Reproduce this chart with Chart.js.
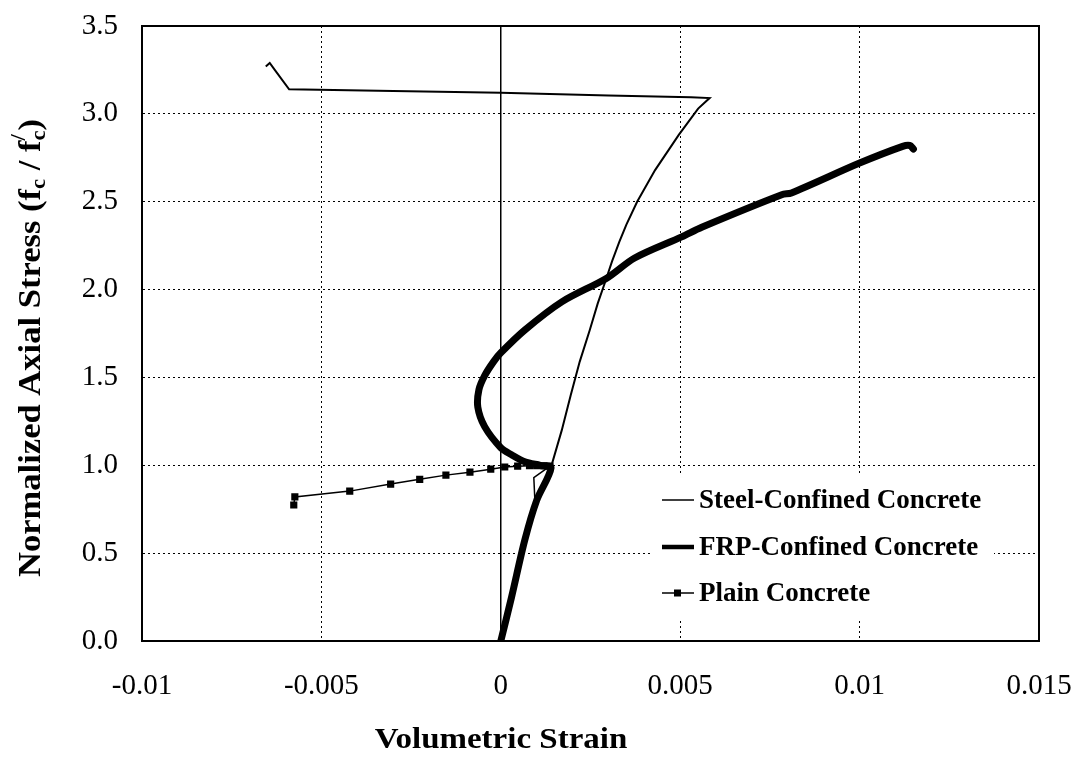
<!DOCTYPE html>
<html>
<head>
<meta charset="utf-8">
<script src="https://cdn.jsdelivr.net/npm/chart.js@4"></script>
<style>
  html, body { margin: 0; padding: 0; background: #fff; }
  #wrap { width: 1076px; height: 757px; }
</style>
</head>
<body>
<div id="wrap"><canvas id="stress-chart" width="1076" height="757"></canvas></div>
<script>
// Normalized axial stress vs volumetric strain for three concrete types
const xTickLabels = ['-0.01', '-0.005', '0', '0.005', '0.01', '0.015'];
const yTickLabels = ['0.0', '0.5', '1.0', '1.5', '2.0', '2.5', '3.0', '3.5'];

const steelStrain = [0, 0.0007, 0.001, 0.0014, 0.0017, 0.00195, 0.0022, 0.00248, 0.0027, 0.00292, 0.0031, 0.0033, 0.0035, 0.0038, 0.0043, 0.00496, 0.0055, 0.00582, 0.0053, 0.003, 0, -0.003, -0.0059, -0.0063, -0.00644, -0.00655];
const steelStress = [0, 0.575, 0.8, 0.99, 1.2, 1.4, 1.59, 1.77, 1.92, 2.05, 2.16, 2.27, 2.37, 2.5, 2.68, 2.88, 3.03, 3.09, 3.095, 3.105, 3.12, 3.13, 3.14, 3.25, 3.29, 3.27];

const frpStrain = [0, 0.0003, 0.00067, 0.001, 0.0014, 0.0011, 0.00067, 0.0003, 0, -0.00045, -0.00064, -0.00061, -0.00045, -0.0002, 0, 0.00067, 0.0017, 0.00295, 0.00373, 0.00504, 0.0056, 0.00783, 0.0081, 0.01, 0.0112, 0.0114, 0.0115];
const frpStress = [0, 0.25, 0.575, 0.8, 0.985, 1.0, 1.02, 1.06, 1.10, 1.22, 1.33, 1.43, 1.51, 1.59, 1.64, 1.77, 1.93, 2.065, 2.18, 2.30, 2.355, 2.54, 2.55, 2.72, 2.815, 2.82, 2.80];

// rising branch (no markers) then the softening branch with markers
const plainRiseStrain = [0, 0.00095, 0.00092];
const plainRiseStress = [0, 0.8, 0.93];
const plainFallStrain = [0.00137, 0.0012, 0.001, 0.0008, 0.00047, 0.00011, -0.00028, -0.00086, -0.00153, -0.00226, -0.00307, -0.00421, -0.00574, -0.00577];
const plainFallStress = [0.995, 0.997, 0.998, 0.998, 0.995, 0.99, 0.978, 0.961, 0.944, 0.92, 0.893, 0.853, 0.82, 0.774];

const legendLabels = ['Steel-Confined Concrete', 'FRP-Confined Concrete', 'Plain Concrete'];

const SERIF = '"Liberation Serif", "Times New Roman", serif';

function toPoints(xs, ys) {
    return xs.map((x, i) => ({ x: x, y: ys[i] }));
}

const plainPoints = toPoints(plainRiseStrain.concat(plainFallStrain), plainRiseStress.concat(plainFallStress));

// keep the plot box where the layout padding puts it
function fixBox(s, size) {
    if (s.isHorizontal()) s.height = size; else s.width = size;
    s.paddingTop = 0;
    s.paddingBottom = 0;
    s.paddingLeft = 0;
    s.paddingRight = 0;
}

// frame, axis titles and in-plot legend
const decorPlugin = {
    id: 'decor',
    afterDatasetsDraw(chart) {
        const { ctx, chartArea: a } = chart;
        ctx.save();

        // legend sits on a white box that hides the grid behind it
        ctx.fillStyle = '#fff';
        ctx.fillRect(652, 476, 342, 142);

        ctx.strokeStyle = '#000';
        ctx.lineWidth = 2;
        ctx.strokeRect(a.left, a.top, a.right - a.left, a.bottom - a.top);

        // x title
        ctx.fillStyle = '#000';
        ctx.save();
        ctx.translate(501, 740);
        ctx.scale(1.1, 1);
        ctx.font = 'bold 30px ' + SERIF;
        ctx.textAlign = 'center';
        ctx.textBaseline = 'middle';
        ctx.fillText('Volumetric Strain', 0, 0);
        ctx.restore();

        // y title with subscripts and prime
        ctx.save();
        ctx.translate(32, 348);
        ctx.rotate(-Math.PI / 2);
        ctx.scale(1.08, 1);
        ctx.textAlign = 'left';
        ctx.textBaseline = 'middle';
        const big = 'bold 32px ' + SERIF;
        const small = 'bold 21px ' + SERIF;
        const parts = [
            { t: 'Normalized Axial Stress (f', f: big, dy: 0 },
            { t: 'c', f: small, dy: 8 },
            { t: ' / f', f: big, dy: 0 },
            { t: '/', f: small, dy: -12, keep: true },
            { t: 'c', f: small, dy: 8 },
            { t: ')', f: big, dy: 0 }
        ];
        let total = 0;
        parts.forEach(p => { ctx.font = p.f; if (!p.keep) total += ctx.measureText(p.t).width; });
        let x = -total / 2;
        parts.forEach(p => {
            ctx.font = p.f;
            ctx.fillText(p.t, x, p.dy);
            if (!p.keep) x += ctx.measureText(p.t).width;
        });
        ctx.restore();

        // legend
        const rows = [
            { y: 500, w: 1.5, marker: false },
            { y: 547, w: 4.5, marker: false },
            { y: 593, w: 1.5, marker: true }
        ];
        ctx.font = 'bold 27px ' + SERIF;
        ctx.textAlign = 'left';
        ctx.textBaseline = 'middle';
        rows.forEach((r, i) => {
            ctx.beginPath();
            ctx.lineWidth = r.w;
            ctx.moveTo(662, r.y);
            ctx.lineTo(694, r.y);
            ctx.stroke();
            if (r.marker) ctx.fillRect(674, r.y - 3.5, 7, 7);
            ctx.fillText(legendLabels[i], 699, r.y + 1);
        });
        ctx.restore();
    }
};

new Chart(document.getElementById('stress-chart').getContext('2d'), {
    type: 'scatter',
    data: {
        datasets: [
            {
                label: legendLabels[0],
                data: toPoints(steelStrain, steelStress),
                showLine: true,
                borderColor: '#000',
                borderWidth: 2,
                pointRadius: 0,
                tension: 0,
                order: 3
            },
            {
                label: legendLabels[1],
                data: toPoints(frpStrain, frpStress),
                showLine: true,
                borderColor: '#000',
                borderWidth: 7,
                pointRadius: 0,
                tension: 0.3,
                borderJoinStyle: 'round',
                borderCapStyle: 'round',
                order: 2
            },
            {
                label: legendLabels[2],
                data: plainPoints,
                showLine: true,
                borderColor: '#000',
                backgroundColor: '#000',
                borderWidth: 1.5,
                pointStyle: 'rect',
                pointRadius: c => (c.dataIndex < plainRiseStrain.length ? 0 : 4),
                tension: 0,
                order: 1
            }
        ]
    },
    options: {
        responsive: false,
        animation: false,
        layout: { padding: { top: 26, right: 37, left: 0, bottom: 0 } },
        plugins: {
            legend: { display: false },
            tooltip: { enabled: false }
        },
        scales: {
            x: {
                type: 'linear',
                min: -0.01,
                max: 0.015,
                afterFit: s => fixBox(s, 116),
                afterBuildTicks: s => { s.ticks = xTickLabels.map(v => ({ value: parseFloat(v) })); },
                ticks: {
                    color: '#000',
                    font: { family: SERIF, size: 29 },
                    padding: 28,
                    callback: (v, i) => xTickLabels[i]
                },
                grid: {
                    color: '#000',
                    lineWidth: c => (c.tick && Math.abs(c.tick.value) < 1e-9 ? 1.5 : 1),
                    drawTicks: false
                },
                border: {
                    color: '#000',
                    width: 2,
                    dash: c => (c.tick && Math.abs(c.tick.value) < 1e-9 ? [] : [2, 3])
                }
            },
            y: {
                type: 'linear',
                min: 0,
                max: 3.5,
                afterFit: s => fixBox(s, 142),
                afterBuildTicks: s => { s.ticks = yTickLabels.map(v => ({ value: parseFloat(v) })); },
                ticks: {
                    color: '#000',
                    font: { family: SERIF, size: 29 },
                    padding: 24,
                    callback: (v, i) => yTickLabels[i]
                },
                grid: {
                    color: '#000',
                    lineWidth: 1,
                    drawTicks: false
                },
                border: { color: '#000', width: 2, dash: [2, 3] }
            }
        }
    },
    plugins: [decorPlugin]
});
</script>
</body>
</html>
